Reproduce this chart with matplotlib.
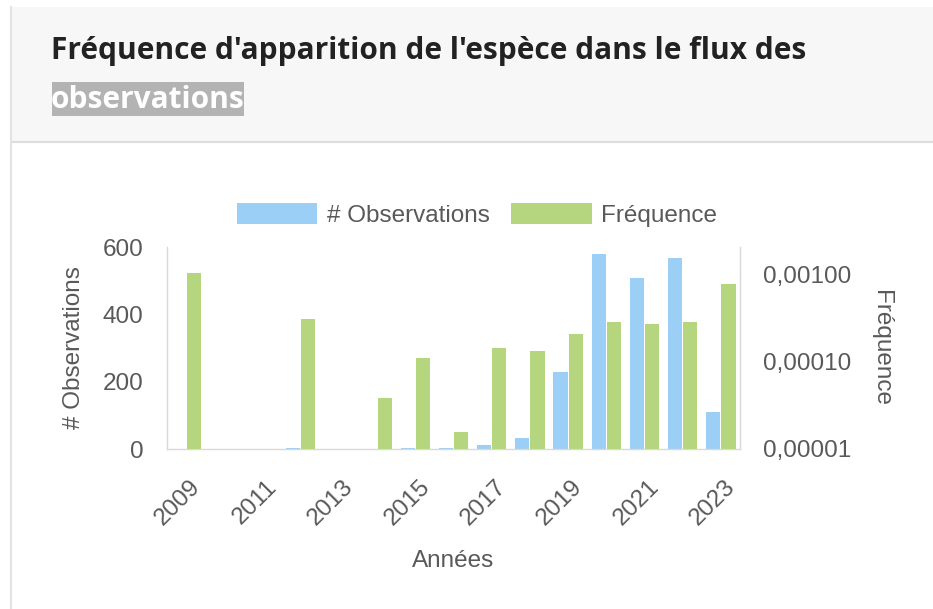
import numpy as np
import matplotlib.pyplot as plt
from matplotlib.patches import Rectangle
from matplotlib.transforms import ScaledTranslation

years = list(range(2009, 2024))
observations = [1, 0, 0, 2, 0, 1, 2, 2, 12, 33, 228, 579, 507, 567, 110]
frequence = [1.03e-3, np.nan, np.nan, 3.1e-4, np.nan, 3.8e-5, 1.1e-4, 1.56e-5,
             1.43e-4, 1.32e-4, 2.06e-4, 2.83e-4, 2.68e-4, 2.83e-4, 7.7e-4]
freq_ticks = [1e-5, 1e-4, 1e-3]
freq_labels = ["0,00001", "0,00010", "0,00100"]

W, H = 933, 609
blue = "#9bcff5"
green = "#b5d57e"
grey = "#595959"
font = ["Liberation Sans", "DejaVu Sans"]

fig = plt.figure(figsize=(W / 100, H / 100), dpi=100)


def fx(x):
    return x / W


def fy(y):
    return 1 - y / H


# card header
fig.patches.append(Rectangle((fx(12), fy(141)), fx(W - 12), (134) / H,
                             transform=fig.transFigure, facecolor="#f7f7f7",
                             edgecolor="none", zorder=0))
fig.lines.append(plt.Line2D([fx(12), 1], [fy(142), fy(142)], transform=fig.transFigure,
                            color="#dddddd", lw=1.5))
fig.lines.append(plt.Line2D([fx(11), fx(11)], [fy(7), 0], transform=fig.transFigure,
                            color="#e3e3e3", lw=1.5))
fig.text(fx(51), fy(59), "Fréquence d'apparition de l'espèce dans le flux des",
         family=["Open Sans", "DejaVu Sans"], weight="bold", size=21.5, color="#222222",
         va="baseline")
fig.patches.append(Rectangle((fx(52), fy(116)), fx(244 - 52), 34 / H,
                             transform=fig.transFigure, facecolor="#b3b3b3",
                             edgecolor="none", zorder=1))
fig.text(fx(51), fy(108), "observations", family=["Open Sans", "DejaVu Sans"],
         weight="bold", size=21.5, color="white", va="baseline", zorder=2)

# chart
ax = fig.add_axes([fx(167), fy(449), (740 - 167) / W, (449 - 247) / H])
ax2 = ax.twinx()
x = np.arange(len(years))
b1 = ax.bar(x - 0.2, observations, width=0.37, color=blue, label="# Observations")
b2 = ax2.bar(x + 0.2, frequence, width=0.37, color=green, label="Fréquence")

ax.set_xlim(-0.5, len(years) - 0.5)
ax.set_ylim(0, 600)
ax.set_yticks([0, 200, 400, 600])
ax2.set_yscale("log")
ax2.set_ylim(1e-5, 2.04e-3)
ax2.set_yticks(freq_ticks)
ax2.set_yticklabels(freq_labels)
ax2.minorticks_off()

for a in (ax, ax2):
    for s in a.spines.values():
        s.set_visible(False)
ax.spines["left"].set_visible(True)
ax.spines["bottom"].set_visible(True)
ax2.spines["right"].set_visible(True)
for s in (ax.spines["left"], ax.spines["bottom"], ax2.spines["right"]):
    s.set_color("#d9d9d9")
    s.set_linewidth(1)

ax.tick_params(axis="y", length=0, pad=17, labelsize=17.5, labelcolor=grey)
ax2.tick_params(axis="y", length=0, pad=16.5, labelsize=17.5, labelcolor=grey)
ax.set_xticks(x[::2])
ax.set_xticklabels([str(y) for y in years[::2]], rotation=45, ha="right", va="center",
                   rotation_mode="anchor")
ax.tick_params(axis="x", length=0, pad=25, labelsize=17.5, labelcolor=grey)
for lab in ax.get_xticklabels() + ax.get_yticklabels() + ax2.get_yticklabels():
    lab.set_family(font)
for lab in ax.get_xticklabels():
    lab.set_transform(lab.get_transform() + ScaledTranslation(11 / 100, 0, fig.dpi_scale_trans))

fig.text(fx(74), fy(348), "# Observations", rotation=90, ha="center", va="center",
         size=17.5, color=grey, family=font)
fig.text(fx(881), fy(348), "Fréquence", rotation=270, ha="center", va="center",
         size=17.5, color=grey, family=font)
fig.text(fx(453), fy(561), "Années", ha="center", va="center",
         size=17.5, color=grey, family=font)

fig.legend(handles=[b1, b2], loc="center", bbox_to_anchor=(fx(477), fy(215)), ncol=2,
           frameon=False, prop={"family": font, "size": 17.5}, labelcolor=grey,
           handlelength=3.3, handleheight=0.95, handletextpad=0.4, columnspacing=0.9,
           borderpad=0)

fig.savefig("out.png", dpi=100)
